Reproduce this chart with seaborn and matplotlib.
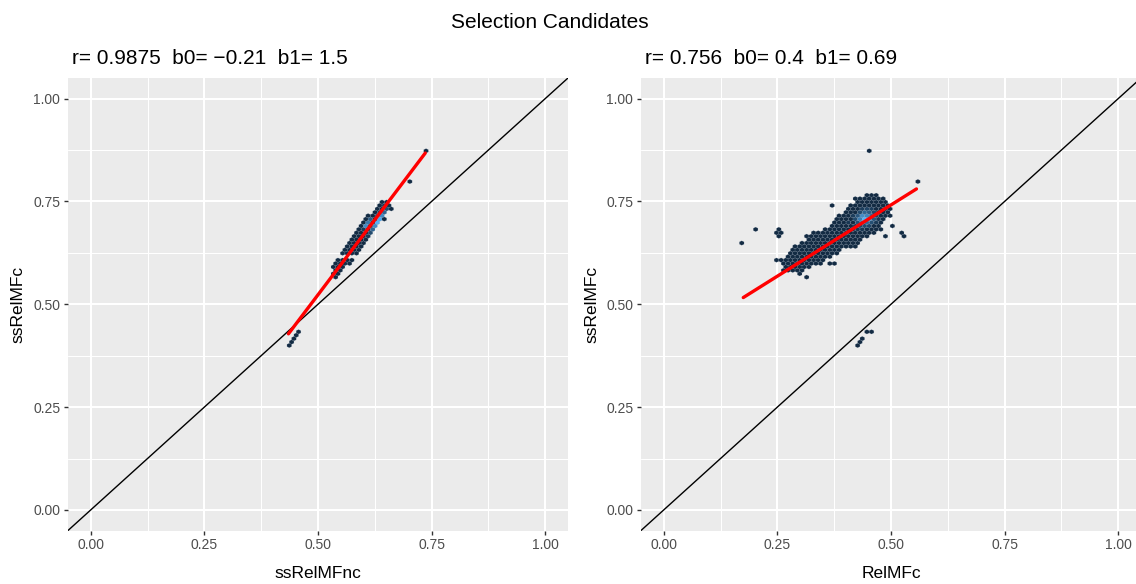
import numpy as np
import matplotlib
matplotlib.use("Agg")
import matplotlib.pyplot as plt
import seaborn as sns
from matplotlib.colors import ListedColormap
from matplotlib.ticker import MultipleLocator

# ---------------- data ----------------
suptitle = "Selection Candidates"
titles = ["r= 0.9875  b0= \u22120.21  b1= 1.5", "r= 0.756  b0= 0.4  b1= 0.69"]
xlabels = ["ssRelMFnc", "RelMFc"]
ylabels = ["ssRelMFc", "ssRelMFc"]
tick_vals = [0.00, 0.25, 0.50, 0.75, 1.00]
tick_labels = ["0.00", "0.25", "0.50", "0.75", "1.00"]

# hex rows of occupied cells: (y, x_first, x_last)
left_rows = [
    (0.750, 0.642, 0.652), (0.742, 0.636, 0.656), (0.734, 0.629, 0.660),
    (0.726, 0.622, 0.650), (0.717, 0.615, 0.645), (0.709, 0.609, 0.641),
    (0.701, 0.601, 0.634), (0.693, 0.593, 0.627), (0.685, 0.587, 0.620),
    (0.677, 0.582, 0.616), (0.668, 0.577, 0.612), (0.660, 0.573, 0.605),
    (0.652, 0.569, 0.598), (0.644, 0.564, 0.594), (0.636, 0.559, 0.587),
    (0.628, 0.556, 0.582), (0.620, 0.552, 0.576), (0.611, 0.548, 0.570),
    (0.603, 0.545, 0.565), (0.595, 0.541, 0.560), (0.587, 0.537, 0.554),
    (0.579, 0.534, 0.551), (0.571, 0.532, 0.545),
]
left_single = [
    (0.432, 0.399), (0.438, 0.408), (0.443, 0.416), (0.447, 0.425),
    (0.453, 0.434), (0.538, 0.564), (0.657, 0.736), (0.703, 0.797),
    (0.738, 0.876),
]
left_hot = [  # (x, y, extra count)
    (0.632, 0.701, 30), (0.637, 0.709, 28), (0.643, 0.717, 22),
    (0.627, 0.693, 22), (0.621, 0.685, 14), (0.649, 0.726, 14),
    (0.615, 0.701, 18), (0.620, 0.709, 12), (0.610, 0.693, 14),
    (0.626, 0.717, 10), (0.605, 0.685, 8), (0.616, 0.677, 8),
    (0.654, 0.734, 8), (0.632, 0.726, 6), (0.611, 0.668, 4),
    (0.600, 0.677, 4), (0.650, 0.742, 4),
]

right_rows = [
    (0.764, 0.448, 0.470), (0.756, 0.426, 0.484), (0.747, 0.422, 0.491),
    (0.739, 0.411, 0.491), (0.730, 0.404, 0.495), (0.722, 0.396, 0.491),
    (0.714, 0.389, 0.497), (0.706, 0.382, 0.484), (0.697, 0.374, 0.480),
    (0.689, 0.371, 0.477), (0.681, 0.352, 0.473), (0.673, 0.327, 0.462),
    (0.665, 0.319, 0.448), (0.657, 0.316, 0.433), (0.649, 0.305, 0.426),
    (0.641, 0.294, 0.418), (0.633, 0.286, 0.389), (0.625, 0.279, 0.382),
    (0.616, 0.272, 0.363), (0.608, 0.246, 0.352), (0.600, 0.264, 0.330),
    (0.592, 0.264, 0.316), (0.584, 0.268, 0.308),
]
right_single = [
    (0.172, 0.650), (0.202, 0.684), (0.257, 0.684), (0.262, 0.676),
    (0.252, 0.676), (0.257, 0.667), (0.373, 0.738), (0.503, 0.685),
    (0.483, 0.667), (0.526, 0.676), (0.533, 0.665), (0.453, 0.876),
    (0.558, 0.797), (0.297, 0.572), (0.314, 0.564), (0.343, 0.599),
    (0.363, 0.599), (0.373, 0.599), (0.427, 0.399), (0.432, 0.408),
    (0.437, 0.416), (0.447, 0.433), (0.457, 0.433),
]
right_hot = [  # (x, y, extra count)
    (0.440, 0.706, 40), (0.430, 0.706, 26), (0.450, 0.706, 30),
    (0.435, 0.714, 30), (0.445, 0.714, 28), (0.455, 0.714, 18),
    (0.425, 0.714, 14), (0.440, 0.722, 18), (0.450, 0.722, 15),
    (0.430, 0.722, 10), (0.460, 0.722, 9), (0.435, 0.697, 22),
    (0.445, 0.697, 20), (0.455, 0.697, 12), (0.425, 0.697, 12),
    (0.460, 0.706, 14), (0.420, 0.706, 10), (0.445, 0.730, 8),
    (0.435, 0.730, 6), (0.455, 0.730, 6), (0.440, 0.689, 10),
    (0.430, 0.689, 9), (0.450, 0.689, 8), (0.465, 0.714, 8),
    (0.415, 0.714, 6), (0.420, 0.689, 5), (0.425, 0.681, 4),
    (0.435, 0.681, 4), (0.410, 0.697, 4), (0.465, 0.697, 5),
    (0.470, 0.706, 4),
]

# regression lines: intercept, slope, x range
fit_b0 = [-0.207, 0.395]
fit_b1 = [1.46, 0.693]
fit_x = [[0.435, 0.736], [0.175, 0.556]]

# ---------------- styling ----------------
sns.set_theme(style="darkgrid")
plt.rcParams["font.family"] = ["Liberation Sans", "DejaVu Sans"]

SX = 0.0102      # hex width (data units)
DY = 0.0083      # hex row spacing (data units)
ANCHOR = [(0.447, 0.433), (0.447, 0.433)]


def _hex2rgb(h):
    return np.array([int(h[i:i + 2], 16) / 255 for i in (1, 3, 5)])


_M = np.array([[0.4124, 0.3576, 0.1805], [0.2126, 0.7152, 0.0722],
               [0.0193, 0.1192, 0.9505]])
_WHITE = np.array([0.95047, 1.0, 1.08883])


def _to_lab(rgb):
    c = np.where(rgb <= 0.04045, rgb / 12.92, ((rgb + 0.055) / 1.055) ** 2.4)
    xyz = _M @ c / _WHITE
    d = 6 / 29
    f = np.where(xyz > d ** 3, np.cbrt(xyz), xyz / (3 * d * d) + 4 / 29)
    return np.array([116 * f[1] - 16, 500 * (f[0] - f[1]), 200 * (f[1] - f[2])])


def _from_lab(lab):
    L, a, b = lab
    fy = (L + 16) / 116
    f = np.array([fy + a / 500, fy, fy - b / 200])
    d = 6 / 29
    xyz = np.where(f > d, f ** 3, 3 * d * d * (f - 4 / 29)) * _WHITE
    c = np.linalg.inv(_M) @ xyz
    rgb = np.where(c <= 0.0031308, 12.92 * c,
                   1.055 * np.clip(c, 0, None) ** (1 / 2.4) - 0.055)
    return np.clip(rgb, 0, 1)


lab_lo, lab_hi = _to_lab(_hex2rgb("#132B43")), _to_lab(_hex2rgb("#56B1F7"))
cmap = ListedColormap([_from_lab(lab_lo + t * (lab_hi - lab_lo))
                       for t in np.linspace(0, 1, 256)])


def build(rows, singles, hot, anchor):
    x0, y0 = anchor
    xs, ys, cs = [], [], []
    for y, xa, xb in rows:
        r = int(round((y - y0) / DY))
        yc = y0 + r * DY
        off = (r % 2) * SX / 2
        ia = int(round((xa - x0 - off) / SX))
        ib = int(round((xb - x0 - off) / SX))
        for i in range(ia, ib + 1):
            xs.append(x0 + off + i * SX)
            ys.append(yc)
            cs.append(1)
    for x, y in singles:
        xs.append(x); ys.append(y); cs.append(1)
    for x, y, c in hot:
        xs.append(x); ys.append(y); cs.append(c)
    return np.array(xs), np.array(ys), np.array(cs, float)


W, H = 1136, 584
fig = plt.figure(figsize=(W / 100, H / 100), dpi=100)
fig.patch.set_facecolor("white")

ax_left_px = [68, 641]
panel_w, panel_top, panel_bot = 500, 78, 530.5
datasets = [(left_rows, left_single, left_hot), (right_rows, right_single, right_hot)]

for k in range(2):
    ax = fig.add_axes([ax_left_px[k] / W, (H - panel_bot) / H,
                       panel_w / W, (panel_bot - panel_top) / H])
    ax.set_facecolor("#EBEBEB")
    ax.set_axisbelow(True)
    rows, singles, hot = datasets[k]
    xs, ys, cs = build(rows, singles, hot, ANCHOR[k])
    x0, y0 = ANCHOR[k]
    ex0 = x0 - 100 * SX
    ey0 = y0 - 50 * 2 * DY
    ax.hexbin(xs, ys, C=cs, reduce_C_function=np.sum,
              gridsize=(200, 100),
              extent=(ex0, ex0 + 200 * SX, ey0, ey0 + 100 * 2 * DY),
              cmap=cmap, linewidths=0.3,
              edgecolors=(0.55, 0.62, 0.70, 0.35), zorder=2)
    ax.axline((0, 0), (1, 1), color="black", lw=1.0, zorder=3)
    fx = np.array(fit_x[k])
    sns.lineplot(x=fx, y=fit_b0[k] + fit_b1[k] * fx, ax=ax,
                 color="#FF0000", lw=2.4, zorder=4)

    ax.set_xlim(-0.05, 1.05)
    ax.set_ylim(-0.05, 1.05)
    ax.set_xticks(tick_vals)
    ax.set_xticklabels(tick_labels)
    ax.set_yticks(tick_vals)
    ax.set_yticklabels(tick_labels)
    ax.xaxis.set_minor_locator(MultipleLocator(0.125))
    ax.yaxis.set_minor_locator(MultipleLocator(0.125))
    ax.grid(which="major", color="white", lw=1.5)
    ax.grid(which="minor", color="white", lw=0.75)
    for s in ax.spines.values():
        s.set_visible(False)
    ax.tick_params(which="major", length=3.1, width=1.0, color="#333333",
                   bottom=True, left=True, labelsize=10,
                   labelcolor="#4D4D4D", pad=2.5)
    ax.tick_params(which="minor", length=0)

    ax.set_xlabel(xlabels[k], fontsize=12.5, color="black")
    ax.set_ylabel(ylabels[k], fontsize=12.5, color="black")
    ax.xaxis.set_label_coords(0.5, -(573 - panel_bot) / (panel_bot - panel_top))
    ax.xaxis.label.set_va("center")
    ylab_x = [18, 592][k]
    ax.yaxis.set_label_coords((ylab_x - ax_left_px[k]) / panel_w, 0.5)
    ax.yaxis.label.set_va("center")

    ax.text(0.008, 1 + (panel_top - 64) / (panel_bot - panel_top), titles[k],
            transform=ax.transAxes, ha="left", va="baseline", fontsize=15,
            color="black")

fig.text(550 / W, 1 - 28.5 / H, suptitle, ha="center", va="baseline",
         fontsize=15, color="black")

fig.savefig("out.png", dpi=100)
